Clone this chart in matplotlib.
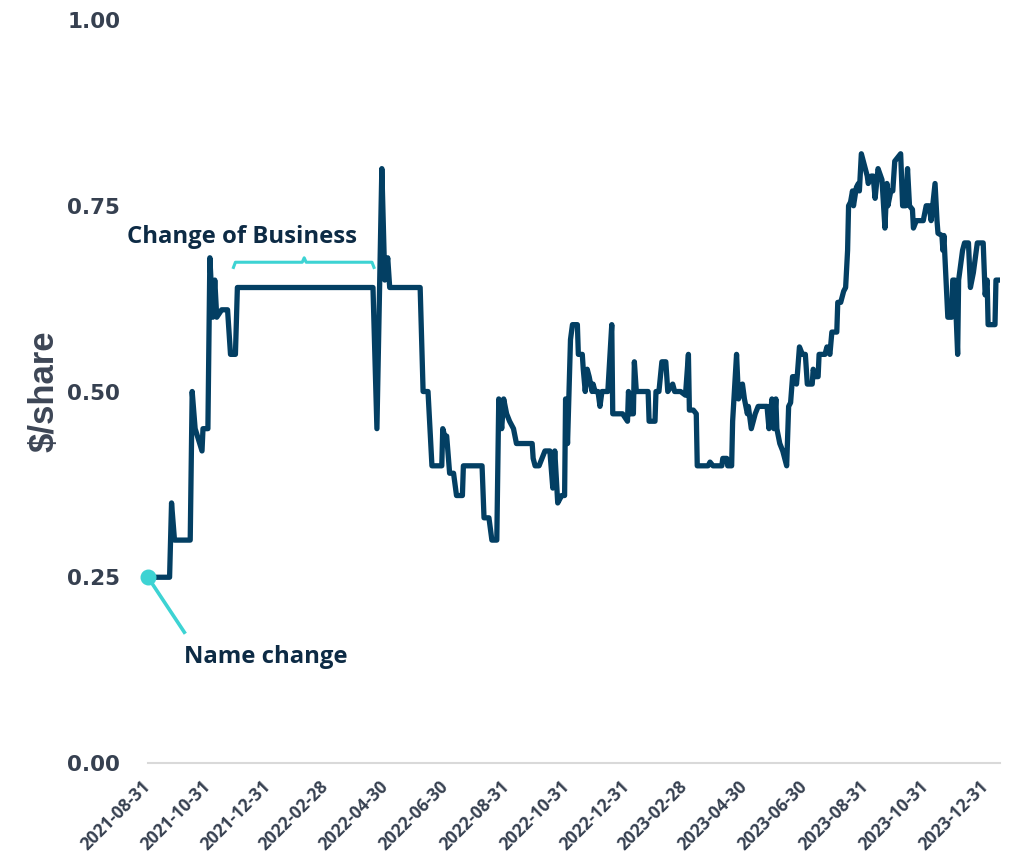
import matplotlib.pyplot as plt
import pandas as pd

# share price
dates = [
    "2021-08-31", "2021-09-22", "2021-09-24", "2021-09-27", "2021-10-13", "2021-10-15",
    "2021-10-18", "2021-10-25", "2021-10-26", "2021-10-31", "2021-11-02", "2021-11-05",
    "2021-11-07", "2021-11-09", "2021-11-14", "2021-11-20", "2021-11-23", "2021-11-28",
    "2021-11-30", "2022-04-17", "2022-04-21", "2022-04-26", "2022-04-29", "2022-05-02",
    "2022-05-04", "2022-06-04", "2022-06-06", "2022-06-07", "2022-06-12", "2022-06-16",
    "2022-06-26", "2022-06-27", "2022-06-29", "2022-07-01", "2022-07-04", "2022-07-08",
    "2022-07-11", "2022-07-17", "2022-07-18", "2022-08-06", "2022-08-08", "2022-08-13",
    "2022-08-16", "2022-08-21", "2022-08-23", "2022-08-26", "2022-08-28", "2022-08-31",
    "2022-09-03", "2022-09-07", "2022-09-10", "2022-09-26", "2022-09-27", "2022-09-29",
    "2022-10-03", "2022-10-09", "2022-10-14", "2022-10-17", "2022-10-19", "2022-10-22",
    "2022-10-26", "2022-10-29", "2022-10-30", "2022-11-01", "2022-11-04", "2022-11-06",
    "2022-11-11", "2022-11-12", "2022-11-16", "2022-11-17", "2022-11-19", "2022-11-21",
    "2022-11-23", "2022-11-26", "2022-11-27", "2022-11-29", "2022-12-02", "2022-12-04",
    "2022-12-06", "2022-12-12", "2022-12-16", "2022-12-17", "2022-12-27", "2023-01-01",
    "2023-01-02", "2023-01-04", "2023-01-07", "2023-01-08", "2023-01-10", "2023-01-22",
    "2023-01-23", "2023-01-29", "2023-01-30", "2023-02-02", "2023-02-05", "2023-02-09",
    "2023-02-11", "2023-02-16", "2023-02-18", "2023-02-24", "2023-03-01", "2023-03-04",
    "2023-03-05", "2023-03-09", "2023-03-12", "2023-03-13", "2023-03-24", "2023-03-26",
    "2023-03-29", "2023-04-07", "2023-04-08", "2023-04-12", "2023-04-13", "2023-04-17",
    "2023-04-18", "2023-04-22", "2023-04-24", "2023-04-28", "2023-04-30", "2023-05-03",
    "2023-05-04", "2023-05-07", "2023-05-09", "2023-05-11", "2023-05-14", "2023-05-23",
    "2023-05-25", "2023-05-28", "2023-05-30", "2023-06-01", "2023-06-02", "2023-06-05",
    "2023-06-08", "2023-06-12", "2023-06-14", "2023-06-16", "2023-06-18", "2023-06-21",
    "2023-06-22", "2023-06-23", "2023-06-25", "2023-06-28", "2023-07-01", "2023-07-03",
    "2023-07-08", "2023-07-09", "2023-07-11", "2023-07-14", "2023-07-15", "2023-07-21",
    "2023-07-23", "2023-07-26", "2023-07-28", "2023-08-02", "2023-08-03", "2023-08-06",
    "2023-08-09", "2023-08-11", "2023-08-13", "2023-08-14", "2023-08-16", "2023-08-18",
    "2023-08-19", "2023-08-22", "2023-08-24", "2023-08-25", "2023-08-27", "2023-08-29",
    "2023-09-02", "2023-09-03", "2023-09-06", "2023-09-08", "2023-09-10", "2023-09-13",
    "2023-09-17", "2023-09-20", "2023-09-22", "2023-09-23", "2023-09-26", "2023-09-28",
    "2023-09-30", "2023-10-06", "2023-10-08", "2023-10-11", "2023-10-13", "2023-10-15",
    "2023-10-18", "2023-10-19", "2023-10-22", "2023-10-29", "2023-11-01", "2023-11-04",
    "2023-11-06", "2023-11-10", "2023-11-12", "2023-11-13", "2023-11-17", "2023-11-18",
    "2023-11-19", "2023-11-23", "2023-11-27", "2023-11-28", "2023-11-30", "2023-12-03",
    "2023-12-04", "2023-12-08", "2023-12-10", "2023-12-14", "2023-12-16", "2023-12-19",
    "2023-12-23", "2023-12-29", "2023-12-31", "2024-01-02", "2024-01-03", "2024-01-10",
    "2024-01-11", "2024-01-15",
]
prices = [
    0.25, 0.25, 0.35, 0.30, 0.30, 0.50,
    0.45, 0.42, 0.45, 0.45, 0.68, 0.60,
    0.65, 0.60, 0.61, 0.61, 0.55, 0.55,
    0.64, 0.64, 0.45, 0.80, 0.65, 0.68,
    0.64, 0.64, 0.55, 0.50, 0.50, 0.40,
    0.40, 0.45, 0.44, 0.44, 0.39, 0.39,
    0.36, 0.36, 0.40, 0.40, 0.33, 0.33,
    0.30, 0.30, 0.49, 0.45, 0.49, 0.47,
    0.46, 0.45, 0.43, 0.43, 0.41, 0.40,
    0.40, 0.42, 0.42, 0.37, 0.42, 0.35,
    0.36, 0.36, 0.49, 0.43, 0.57, 0.59,
    0.59, 0.55, 0.55, 0.53, 0.50, 0.53,
    0.52, 0.50, 0.51, 0.50, 0.50, 0.48,
    0.50, 0.50, 0.59, 0.47, 0.47, 0.46,
    0.50, 0.47, 0.47, 0.54, 0.50, 0.50,
    0.46, 0.46, 0.50, 0.50, 0.54, 0.54,
    0.50, 0.51, 0.50, 0.50, 0.495, 0.55,
    0.475, 0.475, 0.47, 0.40, 0.40, 0.405,
    0.40, 0.40, 0.41, 0.41, 0.40, 0.40,
    0.46, 0.55, 0.49, 0.51, 0.49, 0.47,
    0.48, 0.45, 0.46, 0.47, 0.48, 0.48,
    0.45, 0.49, 0.45, 0.49, 0.45, 0.43,
    0.42, 0.40, 0.48, 0.485, 0.52, 0.52,
    0.51, 0.525, 0.56, 0.55, 0.55, 0.51,
    0.51, 0.53, 0.52, 0.52, 0.55, 0.55,
    0.56, 0.55, 0.58, 0.58, 0.62, 0.62,
    0.635, 0.64, 0.69, 0.75, 0.755, 0.77,
    0.75, 0.775, 0.78, 0.77, 0.82, 0.81,
    0.79, 0.78, 0.79, 0.79, 0.76, 0.80,
    0.785, 0.72, 0.78, 0.75, 0.77, 0.77,
    0.81, 0.82, 0.75, 0.75, 0.80, 0.75,
    0.745, 0.72, 0.73, 0.73, 0.75, 0.75,
    0.73, 0.78, 0.73, 0.713, 0.71, 0.69,
    0.71, 0.60, 0.60, 0.65, 0.65, 0.55,
    0.65, 0.69, 0.70, 0.70, 0.64, 0.66,
    0.70, 0.70, 0.63, 0.65, 0.59, 0.59,
    0.65, 0.65,
]
tick_dates = ["2021-08-31", "2021-10-31", "2021-12-31", "2022-02-28", "2022-04-30",
              "2022-06-30", "2022-08-31", "2022-10-31", "2022-12-31", "2023-02-28",
              "2023-04-30", "2023-06-30", "2023-08-31", "2023-10-31", "2023-12-31"]
y_ticks = [0.0, 0.25, 0.50, 0.75, 1.0]

line_color = "#033f63"
accent = "#3dd3d3"
text_dark = "#0d2b45"
tick_color = "#364050"

x = pd.to_datetime(dates)
ticks = pd.to_datetime(tick_dates)

fig = plt.figure(figsize=(10.1, 8.6), dpi=100)
ax = fig.add_axes([0.1465, 0.1128, 0.8435, 0.8639])

ax.plot(x, prices, color=line_color, lw=3.8, solid_joinstyle="round", zorder=3)
ax.plot(x[0], prices[0], "o", color=accent, ms=10.5, clip_on=False, zorder=4)

ax.set_xlim(x[0], x[-1])
ax.set_ylim(0, 1)
ax.set_yticks(y_ticks, [f"{v:.2f}" for v in y_ticks])
ax.set_xticks(ticks, tick_dates)

for s in ("top", "right", "left"):
    ax.spines[s].set_visible(False)
ax.spines["bottom"].set_color("#d9d9d9")
ax.spines["bottom"].set_linewidth(1.5)

ax.tick_params(axis="y", length=0, pad=20, labelsize=15.5, labelcolor=tick_color)
ax.tick_params(axis="x", length=0, pad=15, labelsize=12.5, labelcolor=tick_color)
for lab in ax.get_yticklabels():
    lab.set_fontweight("bold")
    lab.set_family("DejaVu Sans")
for lab in ax.get_xticklabels():
    lab.set_fontweight("bold")
    lab.set_family(["Open Sans", "DejaVu Sans"])
    lab.set_rotation(45)
    lab.set_ha("right")
    lab.set_va("center")
    lab.set_rotation_mode("anchor")

ax.set_ylabel("$/share", fontsize=25, fontweight="bold", color="#3d4656",
              family=["Liberation Sans Narrow", "Liberation Sans", "DejaVu Sans"])
ax.yaxis.set_label_coords(-0.103, 0.5)

# "Change of Business" bracket
bx = pd.to_datetime(["2021-11-26", "2021-11-28", "2022-02-04", "2022-02-06",
                     "2022-02-08", "2022-04-16", "2022-04-18"])
by = [0.667, 0.674, 0.674, 0.680, 0.674, 0.674, 0.667]
ax.plot(bx, by, color=accent, lw=2.2, solid_joinstyle="round", zorder=2)
ax.text(pd.Timestamp("2021-12-05"), 0.708, "Change of Business", ha="center", va="center",
        fontsize=17.2, fontweight="bold", color=text_dark, family=["Open Sans", "DejaVu Sans"])

# "Name change" pointer
ax.plot([x[0], pd.Timestamp("2021-10-07")], [prices[0], 0.176], color=accent, lw=2.6,
        clip_on=False, zorder=2)
ax.text(pd.Timestamp("2021-10-07"), 0.143, "Name change", ha="left", va="center",
        fontsize=17.2, fontweight="bold", color=text_dark, family=["Open Sans", "DejaVu Sans"])

plt.savefig("out.png", dpi=100)
